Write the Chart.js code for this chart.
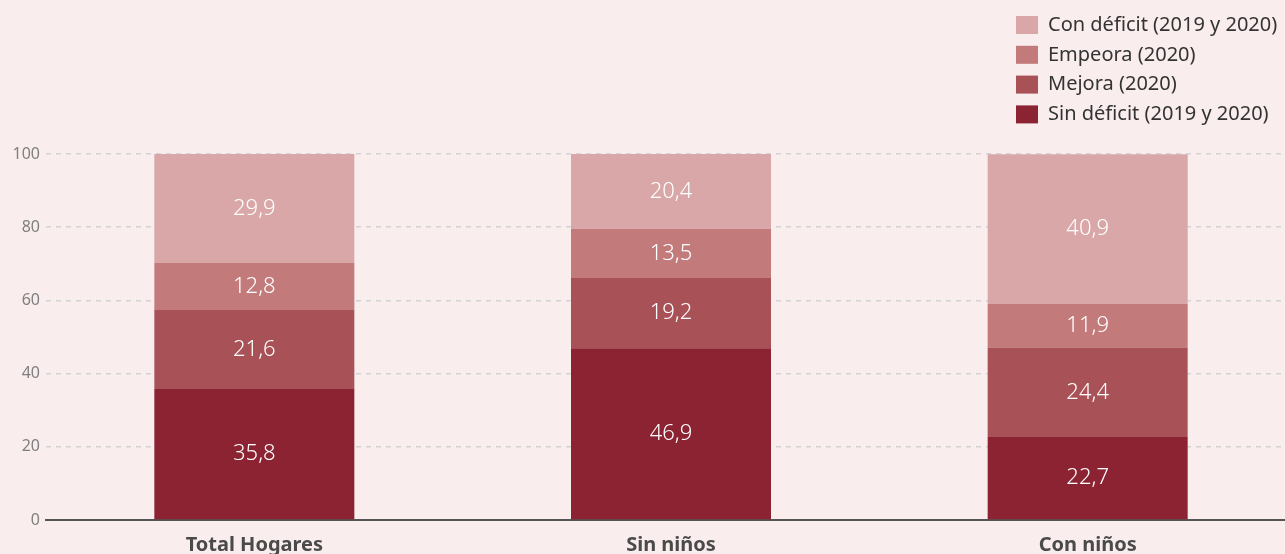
<!DOCTYPE html>
<html>
<head>
<meta charset="utf-8">
<script src="https://cdn.jsdelivr.net/npm/chart.js@4/dist/chart.umd.min.js"></script>
<style>
html,body{margin:0;padding:0;background:#F9EDED;overflow:hidden;}
#wrap{position:relative;width:1296px;height:554px;}
</style>
</head>
<body>
<div id="wrap"><canvas id="c" width="1296" height="554"></canvas></div>
<script>
const categories = ["Total Hogares", "Sin niños", "Con niños"];
const seriesNames = ["Sin déficit (2019 y 2020)", "Mejora (2020)", "Empeora (2020)", "Con déficit (2019 y 2020)"];
const sinDeficit = [35.8, 46.9, 22.7];
const mejora = [21.6, 19.2, 24.4];
const empeora = [12.8, 13.5, 11.9];
const conDeficit = [29.9, 20.4, 40.9];
const yTicks = [0, 20, 40, 60, 80, 100];
const colors = ["#8B2332", "#A85257", "#C27A7B", "#D9A7A8"];

const seriesValues = [sinDeficit, mejora, empeora, conDeficit];

const valueLabels = {
  id: 'valueLabels',
  afterDatasetsDraw(chart) {
    const ctx = chart.ctx;
    ctx.save();
    ctx.fillStyle = '#ffffff';
    ctx.font = '300 22px "Noto Sans"';
    ctx.textAlign = 'center';
    ctx.textBaseline = 'middle';
    chart.data.datasets.forEach((ds, di) => {
      const meta = chart.getDatasetMeta(di);
      meta.data.forEach((bar, i) => {
        const y = (bar.y + bar.base) / 2;
        ctx.fillText(ds.data[i].toFixed(1).replace('.', ','), bar.x, y);
      });
    });
    ctx.restore();
  }
};

const customLegend = {
  id: 'customLegend',
  afterDraw(chart) {
    const ctx = chart.ctx;
    ctx.save();
    ctx.font = '20px "Noto Sans"';
    ctx.textBaseline = 'middle';
    ctx.textAlign = 'left';
    const n = chart.data.datasets.length;
    for (let k = 0; k < n; k++) {
      const di = n - 1 - k;
      const ds = chart.data.datasets[di];
      const cy = 25 + k * 29.8;
      ctx.fillStyle = ds.backgroundColor;
      ctx.fillRect(1016, cy - 9, 22, 18);
      ctx.fillStyle = '#333333';
      ctx.fillText(ds.label, 1048, cy);
    }
    ctx.restore();
  }
};

new Chart(document.getElementById('c'), {
  type: 'bar',
  data: {
    labels: categories,
    datasets: seriesNames.map((name, i) => ({
      label: name,
      data: seriesValues[i],
      backgroundColor: colors[i],
      borderWidth: 0,
      barPercentage: 0.48,
      categoryPercentage: 1.0
    }))
  },
  options: {
    responsive: false,
    animation: false,
    layout: { padding: { top: 154, left: 0, right: 0, bottom: 0 } },
    plugins: { legend: { display: false }, tooltip: { enabled: false } },
    scales: {
      x: {
        stacked: true,
        afterFit(scale) { scale.height = 34; },
        grid: { display: false, drawTicks: false },
        border: { display: true, color: '#555555', width: 2 },
        ticks: { color: '#4a4a4a', font: { family: 'Noto Sans', size: 20, weight: 'bold', lineHeight: 1.2 }, padding: 13 }
      },
      y: {
        stacked: true,
        min: 0, max: 100,
        afterBuildTicks(scale) { scale.ticks = yTicks.map(v => ({ value: v })); },
        afterFit(scale) { scale.width = 46; },
        grid: { color: '#D3D3D3', lineWidth: 1.5, drawTicks: false },
        border: { display: false, dash: [5, 5] },
        ticks: { color: '#808080', font: { family: 'Noto Sans', size: 16 }, padding: 6 }
      }
    }
  },
  plugins: [valueLabels, customLegend]
});
</script>
</body>
</html>
